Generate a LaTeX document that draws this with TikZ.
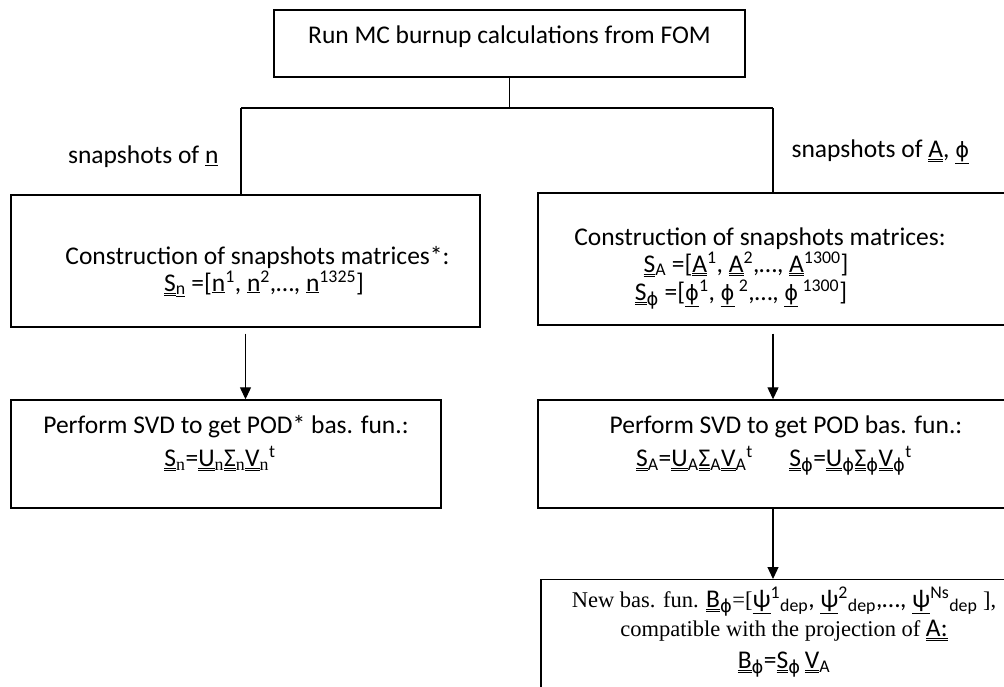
\documentclass[tikz,border=0pt]{standalone}
\usepackage{fontspec}
\setmainfont{Carlito}
\newfontfamily\timesrm{Liberation Serif}
\newfontfamily\grk{DejaVu Sans}
\usetikzlibrary{arrows.meta}

\newcommand{\dul}[1]{$\underline{\underline{\mbox{#1}}}$}
\newcommand{\sul}[1]{$\underline{\mbox{#1}}$}
\newcommand{\ph}{{\grk\fontsize{21}{21}\selectfont ϕ}}
\newcommand{\phs}{{\grk ϕ}}
\newcommand{\tms}[1]{{\timesrm\fontsize{22.5}{27}\selectfont #1}}

\tikzset{
    stepbox/.style={draw, line width=1.4pt, rectangle, align=center, inner sep=0pt},
    link/.style={line width=1.2pt},
    arr/.style={line width=1.2pt, -{Triangle[width=11pt,length=12pt]}}
}

\begin{document}
\begin{tikzpicture}[x=1pt, y=-1pt, font=\fontsize{25.5}{27}\selectfont]
            \useasboundingbox (0,0) rectangle (1004,686);
            \clip (0,0) rectangle (1004,686);

            \node (run) at (509.5,43.5) [stepbox, minimum width=471pt, minimum height=67pt]
                {Run MC burnup calculations from FOM\rule[-18pt]{0pt}{0pt}};

            \node (snapn) at (245.5,261) [stepbox, minimum width=469pt, minimum height=132pt]
                {\rule{0pt}{39pt}\hspace*{24pt}Construction of snapshots matrices*:\\
                 \hspace*{37pt}\dul{S}\textsubscript{\sul{n}} =[\sul{n}\textsuperscript{1}, \sul{n}\textsuperscript{2},\ldots, \sul{n}\textsuperscript{1325}]};

            \node (snapA) at (774,259) [stepbox, minimum width=472pt, minimum height=132pt]
                {\rule{0pt}{36pt}\hspace*{-28pt}Construction of snapshots matrices:\\[0pt]
                 \hspace*{-56pt}\dul{S}\textsubscript{A} =[\dul{A}\textsuperscript{1}, \dul{A}\textsuperscript{2},\ldots, \dul{A}\textsuperscript{1300}]\\[1pt]
                 \hspace*{-66pt}\dul{S}\textsubscript{\phs} =[\sul{\ph}\textsuperscript{1}, \sul{\ph}\,\textsuperscript{2},\ldots, \sul{\ph}\,\textsuperscript{1300}]};

            \node (svdn) at (226,454) [stepbox, minimum width=430pt, minimum height=108pt]
                {Perform SVD to get POD* bas. fun.:\\[6pt]
                 \hspace*{-12pt}\dul{S}\textsubscript{\timesrm n}=\dul{U}\textsubscript{\timesrm n}\dul{Σ}\textsubscript{\timesrm n}\dul{V}\textsubscript{\timesrm n}\textsuperscript{t}\rule[-26pt]{0pt}{0pt}};

            \node (svdA) at (774,454) [stepbox, minimum width=472pt, minimum height=108pt]
                {\hspace*{24pt}Perform SVD to get POD bas. fun.:\\[6pt]
                 \dul{S}\textsubscript{A}=\dul{U}\textsubscript{A}\dul{Σ}\textsubscript{A}\dul{V}\textsubscript{A}\textsuperscript{t}\hspace{1.2em}
                 \dul{S}\textsubscript{\phs}=\dul{U}\textsubscript{\phs}\dul{Σ}\textsubscript{\phs}\dul{V}\textsubscript{\phs}\textsuperscript{t}\rule[-26pt]{0pt}{0pt}};

            \node (newbas) at (775.5,579) [stepbox, minimum width=469pt, minimum height=142pt, anchor=north] {};
            \node (newtxt) at (784,632.5)
                [align=center]
                {\tms{New bas. fun. }\dul{B}\textsubscript{\phs}\tms{=[}\sul{ψ}\textsuperscript{1}\textsubscript{dep}, \sul{ψ}\textsuperscript{2}\textsubscript{dep},\ldots, \sul{ψ}\textsuperscript{Ns}\textsubscript{dep}\tms{\ ],}\\[2pt]
                 \tms{compatible with the projection of }\dul{A:}\\[5pt]
                 \dul{B}\textsubscript{\phs}=\dul{S}\textsubscript{\phs}\,\dul{V}\textsubscript{A}};

            \node (labn) at (222,157) [anchor=east] {snapshots of \sul{n}};
            \node (labA) at (788,152) [anchor=west] {snapshots of \dul{A}, \sul{\ph}};

            \coordinate (jl) at (241,108);
            \coordinate (jr) at (773,108);
            \draw[link] (run.south) -- (run.south |- jl);
            \draw[link] (jl) -- (jr);
            \draw[link] (jl) -- (jl |- snapn.north);
            \draw[link] (jr) -- (jr |- snapA.north);

            \draw[arr] ([yshift=-6pt]snapn.south) -- (snapn.south |- svdn.north);
            \draw[arr] ([xshift=-1pt,yshift=-8pt]snapA.south) -- ([xshift=-1pt]snapA.south |- svdA.north);
            \draw[arr] ([xshift=-1pt]svdA.south) -- ([xshift=-1pt]svdA.south |- newbas.north);
        \end{tikzpicture}
\end{document}
